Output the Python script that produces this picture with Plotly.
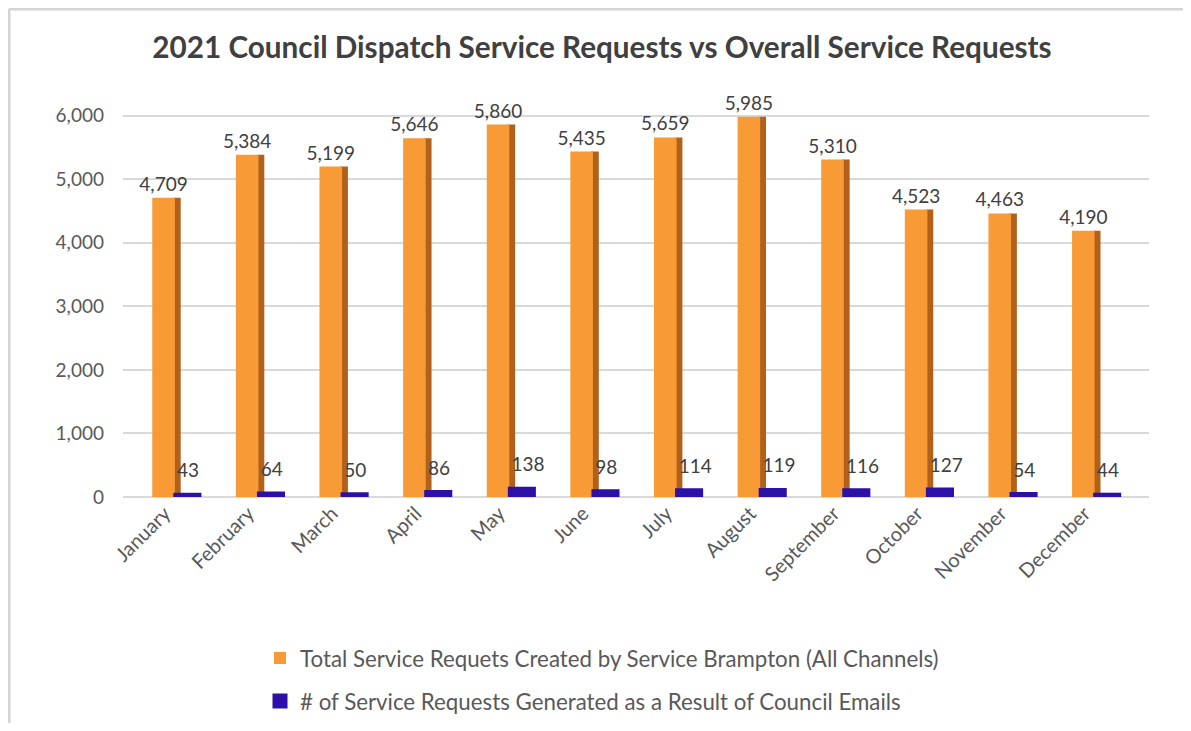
import plotly.graph_objects as go

months = ["January", "February", "March", "April", "May", "June", "July",
          "August", "September", "October", "November", "December"]
total_requests = [4709, 5384, 5199, 5646, 5860, 5435, 5659, 5985, 5310, 4523, 4463, 4190]
council_requests = [43, 64, 50, 86, 138, 98, 114, 119, 116, 127, 54, 44]

name_total = "Total Service Requets Created by Service Brampton (All Channels)"
name_council = "# of Service Requests Generated as a Result of Council Emails"

ORANGE = "#f89a35"
ORANGE_SIDE = "#b0611c"
BLUE = "#2c10a8"
TEXT = "#595959"
LABEL = "#404040"
FONT = "Lato, 'Open Sans', sans-serif"

W, H = 1175, 715
L, R, T, B = 115, 34, 95, 226
PW, PH = W - L - R, H - T - B

fig = go.Figure()

# side face of orange bars (pseudo 3D)
fig.add_trace(go.Bar(
    x=months, y=total_requests, offset=0.10, width=0.09,
    marker=dict(color=ORANGE_SIDE, line=dict(width=0)),
    showlegend=False, hoverinfo="skip",
))
fig.add_trace(go.Bar(
    x=months, y=total_requests, name=name_total, legendgroup="a",
    offset=-0.15, width=0.27,
    marker=dict(color=ORANGE, line=dict(width=0)),
    text=[f"{v:,}" for v in total_requests], textposition="outside",
    constraintext="none",
    textfont=dict(size=19, color=LABEL, family=FONT),
    cliponaxis=False,
))
fig.add_trace(go.Bar(
    x=months, y=council_requests, name=name_council, legendgroup="b",
    offset=0.12, width=0.3,
    marker=dict(color=BLUE, line=dict(color=BLUE, width=3)),
    cliponaxis=False,
))
# value labels of the small series, lifted above the flat slabs
fig.add_trace(go.Scatter(
    x=months, y=council_requests, mode="markers+text",
    marker=dict(size=18, color="rgba(0,0,0,0)"),
    text=[f"{v:,}" for v in council_requests], textposition="top right",
    textfont=dict(size=19, color=LABEL, family=FONT),
    showlegend=False, hoverinfo="skip", cliponaxis=False,
))

fig.update_layout(
    width=W, height=H,
    margin=dict(l=L, r=R, t=T, b=B),
    paper_bgcolor="white", plot_bgcolor="white",
    barmode="overlay",
    title=dict(text="<b>2021 Council Dispatch Service Requests vs Overall Service Requests</b>",
               x=594 / W, xanchor="center", y=1 - 40 / H, yanchor="middle",
               font=dict(size=29.7, color=LABEL, family=FONT)),
    font=dict(family=FONT, color=TEXT),
    legend=dict(orientation="v", xref="paper", yref="container",
                x=(252 - L) / PW, xanchor="left",
                y=1 - 629 / H, yanchor="top",
                font=dict(size=22.3, color=TEXT, family=FONT),
                traceorder="grouped", tracegroupgap=11, itemwidth=30),
    showlegend=True,
)
fig.update_xaxes(tickangle=-45, tickfont=dict(size=20, color=TEXT, family=FONT),
                 range=[-0.5, 11.77],
                 showgrid=False, showline=False, ticks="")
fig.update_yaxes(range=[0, 6200], tickvals=[0, 1000, 2000, 3000, 4000, 5000, 6000],
                 tickformat=",", tickfont=dict(size=19, color=TEXT, family=FONT),
                 showgrid=True, gridcolor="#d9d9d9", gridwidth=2,
                 zeroline=True, zerolinecolor="#d9d9d9", zerolinewidth=2,
                 ticks="", ticklabelstandoff=18, showline=False)

# outer frame (top and left edges only, as in the reference)
fig.add_shape(type="line", xref="paper", yref="paper",
              x0=-(L - 1) / PW, x1=(W - L) / PW, y0=(H - B - 1) / PH, y1=(H - B - 1) / PH,
              line=dict(color="#d4d4d4", width=3), layer="below")
fig.add_shape(type="line", xref="paper", yref="paper",
              x0=-(L - 1) / PW, x1=-(L - 1) / PW, y0=(H - B - 1) / PH, y1=-(B) / PH,
              line=dict(color="#d4d4d4", width=3), layer="below")

fig.write_html("out.html")
